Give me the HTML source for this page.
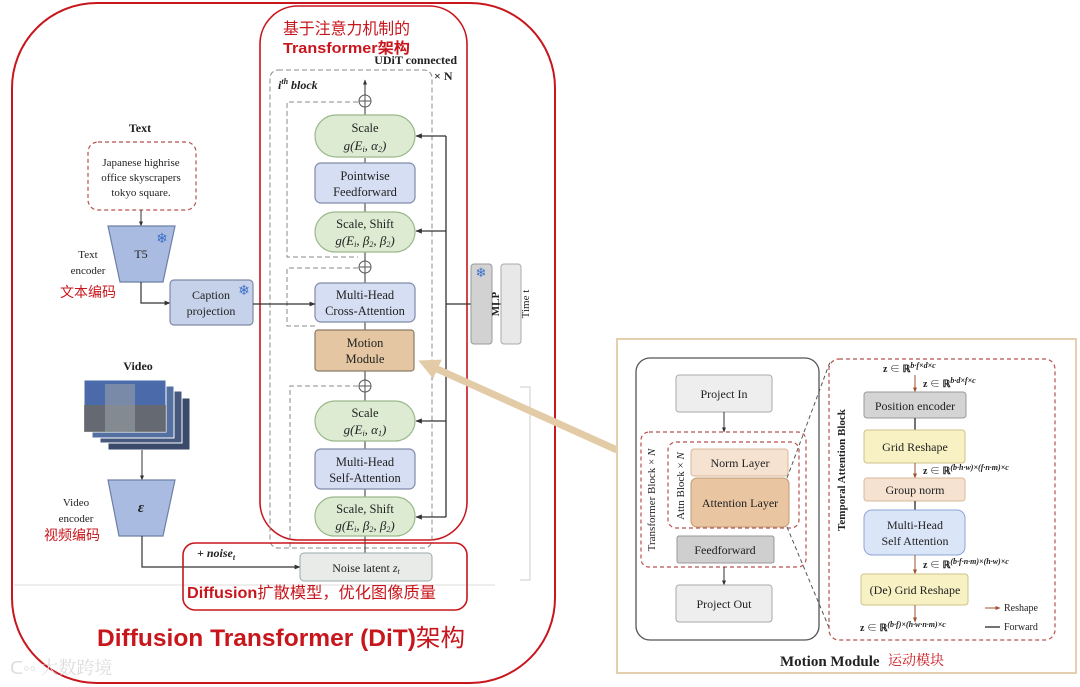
<!DOCTYPE html>
<html><head><meta charset="utf-8"><style>
html,body{margin:0;padding:0;background:#fff;}
svg{display:block;}
text{font-family:"Liberation Serif","Noto Serif CJK SC",serif;fill:#222;}
.cn{font-family:"Liberation Sans","Noto Sans CJK SC",sans-serif;fill:#c8161d;}
</style></head><body>
<svg width="1080" height="687" viewBox="0 0 1080 687" xmlns="http://www.w3.org/2000/svg">
<defs>
<marker id="a" viewBox="0 0 10 10" refX="9" refY="5" markerWidth="5" markerHeight="5" orient="auto"><path d="M0,1 L10,5 L0,9z" fill="#333"/></marker>
<marker id="ab" viewBox="0 0 10 10" refX="9" refY="5" markerWidth="5" markerHeight="5" orient="auto"><path d="M0,1 L10,5 L0,9z" fill="#a0522d"/></marker>
<marker id="at" viewBox="0 0 10 10" refX="6" refY="5" markerWidth="3" markerHeight="3" orient="auto"><path d="M0,0 L10,5 L0,10z" fill="#e2cba6"/></marker>
</defs>

<line x1="14" y1="585" x2="495" y2="585" stroke="#ddd" stroke-width="1"/>
<polyline points="520,387 530,387 530,580 520,580" fill="none" stroke="#ccc" stroke-width="1"/>

<rect x="12" y="3" width="543" height="680" rx="85" fill="none" stroke="#c8161d" stroke-width="2"/>
<rect x="260" y="6" width="207" height="534" rx="38" fill="none" stroke="#c8161d" stroke-width="1.6"/>
<text x="283" y="34" class="cn" font-size="16" textLength="127" lengthAdjust="spacingAndGlyphs">基于注意力机制的</text>
<text x="283" y="53" class="cn" font-size="15" font-weight="bold" textLength="127" lengthAdjust="spacingAndGlyphs">Transformer架构</text>
<text x="457" y="64" font-size="12" font-weight="bold" text-anchor="end">UDiT connected</text>
<text x="434" y="80" font-size="12" font-weight="bold">× N</text>

<rect x="270" y="70" width="162" height="478" rx="8" fill="none" stroke="#888" stroke-width="1" stroke-dasharray="5,3"/>
<text x="278" y="89" font-size="12" font-weight="bold" font-style="italic">i<tspan font-size="8" dy="-5">th</tspan><tspan dy="5"> block</tspan></text>
<polyline points="358,102 287,102 287,257 358,257" fill="none" stroke="#888" stroke-dasharray="5,3"/>
<polyline points="358,268 287,268 287,326 315,326" fill="none" stroke="#888" stroke-dasharray="5,3"/>
<polyline points="358,386 290,386 290,548" fill="none" stroke="#888" stroke-dasharray="5,3"/>

<line x1="365" y1="115" x2="365" y2="80" stroke="#333" marker-end="url(#a)"/>
<line x1="365" y1="163" x2="365" y2="158" stroke="#333"/>
<line x1="365" y1="212" x2="365" y2="203" stroke="#333"/>
<line x1="365" y1="283" x2="365" y2="252" stroke="#333"/>
<line x1="365" y1="330" x2="365" y2="322" stroke="#333"/>
<line x1="365" y1="401" x2="365" y2="371" stroke="#333"/>
<line x1="365" y1="449" x2="365" y2="440" stroke="#333"/>
<line x1="365" y1="497" x2="365" y2="489" stroke="#333"/>
<line x1="365" y1="553" x2="365" y2="535" stroke="#333"/>
<g fill="#fff" stroke="#555"><circle cx="365" cy="101" r="6"/><circle cx="365" cy="267" r="6"/><circle cx="365" cy="386" r="6"/></g>
<g stroke="#555"><line x1="359" y1="101" x2="371" y2="101"/><line x1="365" y1="95" x2="365" y2="107"/><line x1="359" y1="267" x2="371" y2="267"/><line x1="365" y1="261" x2="365" y2="273"/><line x1="359" y1="386" x2="371" y2="386"/><line x1="365" y1="380" x2="365" y2="392"/></g>

<g stroke="#9ab98a" stroke-width="1.2" fill="#dcebd2">
<rect x="315" y="115" width="100" height="42" rx="21"/>
<rect x="315" y="212" width="100" height="40" rx="20"/>
<rect x="315" y="401" width="100" height="40" rx="20"/>
<rect x="315" y="497" width="100" height="39" rx="19"/>
</g>
<g stroke="#7f8aa8" stroke-width="1.2" fill="#d6def3">
<rect x="315" y="163" width="100" height="40" rx="6"/>
<rect x="315" y="283" width="100" height="39" rx="6"/>
<rect x="315" y="449" width="100" height="40" rx="6"/>
</g>
<rect x="315" y="330" width="99" height="41" rx="3" fill="#e4c7a2" stroke="#8a7a66" stroke-width="1.2"/>
<g font-size="12.5" text-anchor="middle">
<text x="365" y="132">Scale</text><text x="365" y="150" font-style="italic" font-size="13">g(E<tspan font-size="8" dy="2">i</tspan><tspan dy="-2">, α</tspan><tspan font-size="8" dy="2">2</tspan><tspan dy="-2">)</tspan></text>
<text x="365" y="180">Pointwise</text><text x="365" y="196">Feedforward</text>
<text x="365" y="228">Scale, Shift</text><text x="365" y="245" font-style="italic" font-size="13">g(E<tspan font-size="8" dy="2">i</tspan><tspan dy="-2">, β</tspan><tspan font-size="8" dy="2">2</tspan><tspan dy="-2">, β</tspan><tspan font-size="8" dy="2">2</tspan><tspan dy="-2">)</tspan></text>
<text x="365" y="299">Multi-Head</text><text x="365" y="315">Cross-Attention</text>
<text x="365" y="347">Motion</text><text x="365" y="363">Module</text>
<text x="365" y="417">Scale</text><text x="365" y="434" font-style="italic" font-size="13">g(E<tspan font-size="8" dy="2">i</tspan><tspan dy="-2">, α</tspan><tspan font-size="8" dy="2">1</tspan><tspan dy="-2">)</tspan></text>
<text x="365" y="466">Multi-Head</text><text x="365" y="482">Self-Attention</text>
<text x="365" y="513">Scale, Shift</text><text x="365" y="530" font-style="italic" font-size="13">g(E<tspan font-size="8" dy="2">i</tspan><tspan dy="-2">, β</tspan><tspan font-size="8" dy="2">2</tspan><tspan dy="-2">, β</tspan><tspan font-size="8" dy="2">2</tspan><tspan dy="-2">)</tspan></text>
</g>

<line x1="446" y1="136" x2="446" y2="517" stroke="#333" stroke-width="1.3"/>
<g stroke="#333" stroke-width="1.3">
<line x1="446" y1="136" x2="416" y2="136" marker-end="url(#a)"/>
<line x1="446" y1="231" x2="416" y2="231" marker-end="url(#a)"/>
<line x1="446" y1="421" x2="416" y2="421" marker-end="url(#a)"/>
<line x1="446" y1="517" x2="416" y2="517" marker-end="url(#a)"/>
<line x1="446" y1="304" x2="471" y2="304"/>
<line x1="492" y1="304" x2="501" y2="304"/>
</g>
<rect x="471" y="264" width="21" height="80" rx="3" fill="#d2d2d2" stroke="#999"/>
<rect x="501" y="264" width="20" height="80" rx="3" fill="#e8e8e8" stroke="#aaa"/>
<text x="481" y="318" font-size="11" transform="rotate(-90 481 304)" text-anchor="middle" dy="4" font-weight="bold">MLP</text>
<text x="511" y="318" font-size="11" transform="rotate(-90 511 304)" text-anchor="middle" dy="4">Time t</text>
<text x="481" y="277" font-size="13" text-anchor="middle" style="fill:#3b6fc9">❄</text>

<text x="140" y="132" font-size="12" font-weight="bold" text-anchor="middle">Text</text>
<rect x="88" y="142" width="108" height="68" rx="10" fill="none" stroke="#b8524f" stroke-width="1.2" stroke-dasharray="4,3"/>
<g font-size="11" text-anchor="middle"><text x="141" y="166">Japanese highrise</text><text x="141" y="181">office skyscrapers</text><text x="141" y="196">tokyo square.</text></g>
<line x1="141" y1="210" x2="141" y2="226" stroke="#333" marker-end="url(#a)"/>
<polygon points="108,226 175,226 163,282 120,282" fill="#a9bbe0" stroke="#6d7fa6" stroke-width="1.2"/>
<text x="141" y="258" font-size="12" text-anchor="middle">T5</text>
<text x="162" y="243" font-size="14" text-anchor="middle" style="fill:#3b6fc9">❄</text>
<text x="88" y="258" font-size="11" text-anchor="middle">Text</text>
<text x="88" y="274" font-size="11" text-anchor="middle">encoder</text>
<text x="88" y="297" class="cn" font-size="14" text-anchor="middle">文本编码</text>
<polyline points="141,282 141,303 170,303" fill="none" stroke="#333" stroke-width="1.2" marker-end="url(#a)"/>
<rect x="170" y="280" width="83" height="45" rx="4" fill="#c6d1ea" stroke="#7f8aa8" stroke-width="1.2"/>
<text x="211" y="299" font-size="12" text-anchor="middle">Caption</text>
<text x="211" y="315" font-size="12" text-anchor="middle">projection</text>
<text x="244" y="295" font-size="14" text-anchor="middle" style="fill:#3b6fc9">❄</text>
<line x1="253" y1="304" x2="315" y2="304" stroke="#333" stroke-width="1.2" marker-end="url(#a)"/>

<text x="138" y="370" font-size="12" font-weight="bold" text-anchor="middle">Video</text>
<g stroke="#fff" stroke-width="1">
<rect x="108" y="398" width="82" height="52" fill="#3a4a6a"/>
<rect x="100" y="391" width="82" height="52" fill="#46597d"/>
<rect x="92" y="386" width="82" height="52" fill="#5470a0"/>
<rect x="84" y="380" width="82" height="52" fill="#4a6aaa"/>
</g>
<rect x="84" y="405" width="82" height="27" fill="#6f6a5a" opacity="0.7"/>
<rect x="105" y="384" width="30" height="48" fill="#9aa0a8" opacity="0.6"/>
<line x1="142" y1="450" x2="142" y2="480" stroke="#333" marker-end="url(#a)"/>
<polygon points="108,480 175,480 163,536 119,536" fill="#a9bbe0" stroke="#6d7fa6" stroke-width="1.2"/>
<text x="141" y="512" font-size="15" font-style="italic" font-weight="bold" text-anchor="middle">ε</text>
<text x="76" y="506" font-size="11" text-anchor="middle">Video</text>
<text x="76" y="522" font-size="11" text-anchor="middle">encoder</text>
<text x="72" y="540" class="cn" font-size="14" text-anchor="middle">视频编码</text>
<polyline points="142,536 142,567 300,567" fill="none" stroke="#333" stroke-width="1.2" marker-end="url(#a)"/>

<rect x="183" y="543" width="284" height="67" rx="12" fill="none" stroke="#c8161d" stroke-width="1.6"/>
<text x="197" y="557" font-size="12" font-weight="bold" font-style="italic">+ noise<tspan font-size="8" dy="3">t</tspan></text>
<rect x="300" y="553" width="132" height="28" rx="4" fill="#e9ebe9" stroke="#9aa" stroke-width="1"/>
<text x="366" y="572" font-size="12" text-anchor="middle">Noise latent <tspan font-style="italic">z<tspan font-size="8" dy="2">t</tspan></tspan></text>
<text x="187" y="598" class="cn" font-size="16" font-weight="bold" textLength="249" lengthAdjust="spacingAndGlyphs">Diffusion<tspan font-weight="normal">扩散模型，优化图像质量</tspan></text>

<text x="97" y="646" class="cn" font-size="24" font-weight="bold" textLength="368" lengthAdjust="spacingAndGlyphs">Diffusion  Transformer (DiT)<tspan font-weight="normal">架构</tspan></text>
<text x="10" y="674" font-size="18" style="fill:#ddd" font-family="Liberation Sans,Noto Sans CJK SC,sans-serif">ᑕ◦◦ 大数跨境</text>

<line x1="617" y1="450" x2="426" y2="364" stroke="#e2cba6" stroke-width="7" marker-end="url(#at)"/>

<rect x="617" y="339" width="459" height="334" fill="#fff" stroke="#e4cfae" stroke-width="2"/>
<rect x="636" y="358" width="183" height="282" rx="14" fill="none" stroke="#555" stroke-width="1.3"/>
<rect x="676" y="375" width="96" height="37" rx="3" fill="#eee" stroke="#aaa"/>
<text x="724" y="398" font-size="12" text-anchor="middle">Project In</text>
<line x1="724" y1="412" x2="724" y2="432" stroke="#333" marker-end="url(#a)"/>
<rect x="641" y="432" width="165" height="135" rx="8" fill="none" stroke="#b8524f" stroke-width="1.2" stroke-dasharray="4,3"/>
<rect x="668" y="442" width="131" height="86" rx="8" fill="none" stroke="#b8524f" stroke-width="1.2" stroke-dasharray="4,3"/>
<text font-size="11" transform="translate(655 500) rotate(-90)" text-anchor="middle">Transformer Block × <tspan font-style="italic">N</tspan></text>
<text font-size="11" transform="translate(684 486) rotate(-90)" text-anchor="middle">Attn Block × <tspan font-style="italic">N</tspan></text>
<rect x="691" y="449" width="97" height="27" rx="3" fill="#f6e2d0" stroke="#d8b89a"/>
<text x="740" y="467" font-size="12" text-anchor="middle">Norm Layer</text>
<rect x="691" y="478" width="98" height="49" rx="6" fill="#e9c5a2" stroke="#c29a74"/>
<text x="740" y="507" font-size="12" text-anchor="middle">Attention Layer</text>
<rect x="677" y="536" width="97" height="27" rx="2" fill="#cfcfcf" stroke="#999"/>
<text x="725" y="554" font-size="12" text-anchor="middle">Feedforward</text>
<line x1="724" y1="567" x2="724" y2="585" stroke="#333" marker-end="url(#a)"/>
<rect x="676" y="585" width="96" height="37" rx="3" fill="#eee" stroke="#aaa"/>
<text x="724" y="608" font-size="12" text-anchor="middle">Project  Out</text>
<line x1="787" y1="478" x2="830" y2="362" stroke="#555" stroke-dasharray="4,3"/>
<line x1="787" y1="527" x2="830" y2="630" stroke="#555" stroke-dasharray="4,3"/>

<rect x="829" y="359" width="226" height="281" rx="10" fill="none" stroke="#b8524f" stroke-width="1.2" stroke-dasharray="4,3"/>
<text font-size="11" font-weight="bold" transform="translate(845 470) rotate(-90)" text-anchor="middle">Temporal Attention Block</text>
<g font-size="10" font-weight="bold">
<text x="883" y="372">z ∈ ℝ<tspan font-size="8" dy="-4" font-style="italic">b·f×d×c</tspan></text>
<text x="923" y="387">z ∈ ℝ<tspan font-size="8" dy="-4" font-style="italic">b·d×f×c</tspan></text>
<text x="923" y="474">z ∈ ℝ<tspan font-size="8" dy="-4" font-style="italic">(b·h·w)×(f·n·m)×c</tspan></text>
<text x="923" y="568">z ∈ ℝ<tspan font-size="8" dy="-4" font-style="italic">(b·f·n·m)×(h·w)×c</tspan></text>
<text x="860" y="631">z ∈ ℝ<tspan font-size="8" dy="-4" font-style="italic">(b·f)×(h·w·n·m)×c</tspan></text>
</g>
<line x1="915" y1="375" x2="915" y2="392" stroke="#a0522d" marker-end="url(#ab)"/>
<rect x="864" y="392" width="102" height="26" rx="3" fill="#d4d4d4" stroke="#999"/>
<text x="915" y="410" font-size="12" text-anchor="middle">Position encoder</text>
<line x1="915" y1="418" x2="915" y2="430" stroke="#444" stroke-width="1.5"/>
<rect x="864" y="430" width="101" height="33" rx="3" fill="#f7f1c4" stroke="#ccc28a"/>
<text x="915" y="451" font-size="12" text-anchor="middle">Grid Reshape</text>
<line x1="915" y1="463" x2="915" y2="478" stroke="#a0522d" marker-end="url(#ab)"/>
<rect x="864" y="478" width="101" height="23" rx="3" fill="#f6e2d0" stroke="#d8b89a"/>
<text x="915" y="494" font-size="12" text-anchor="middle">Group norm</text>
<line x1="915" y1="501" x2="915" y2="510" stroke="#444" stroke-width="1.5"/>
<rect x="864" y="510" width="101" height="45" rx="8" fill="#dbe5f8" stroke="#8ea5d6"/>
<text x="915" y="529" font-size="12" text-anchor="middle">Multi-Head</text>
<text x="915" y="545" font-size="12" text-anchor="middle">Self Attention</text>
<line x1="915" y1="555" x2="915" y2="574" stroke="#a0522d" marker-end="url(#ab)"/>
<rect x="861" y="574" width="107" height="31" rx="3" fill="#f7f1c4" stroke="#ccc28a"/>
<text x="915" y="594" font-size="12" text-anchor="middle">(De) Grid Reshape</text>
<line x1="915" y1="605" x2="915" y2="622" stroke="#a0522d" marker-end="url(#ab)"/>
<line x1="985" y1="608" x2="1000" y2="608" stroke="#a0522d" marker-end="url(#ab)"/>
<text x="1004" y="611" font-size="10">Reshape</text>
<line x1="985" y1="627" x2="1000" y2="627" stroke="#444" stroke-width="1.5"/>
<text x="1004" y="630" font-size="10">Forward</text>

<text x="780" y="666" font-size="15" font-weight="bold">Motion Module</text>
<text x="888" y="665" class="cn" font-size="14" style="font-family:'Noto Serif CJK SC',serif">运动模块</text>
</svg>
</body></html>
